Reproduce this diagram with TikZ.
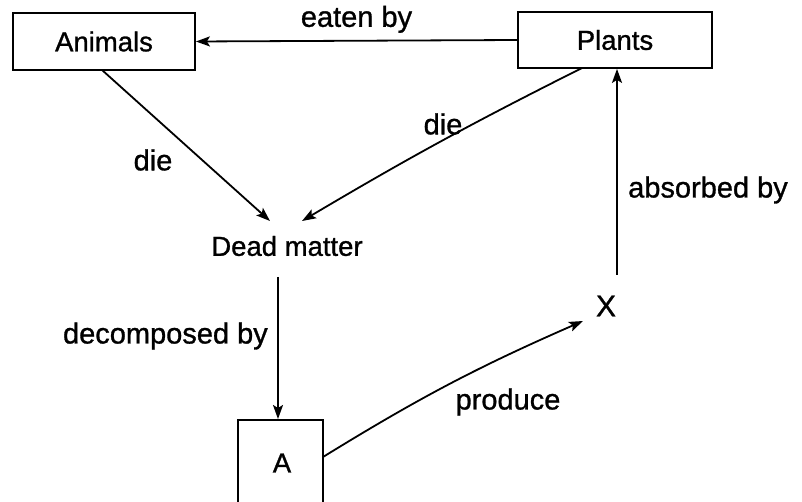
\documentclass[tikz,border=0pt]{standalone}
\usepackage{fontspec}
\setmainfont{Liberation Sans}[FakeBold=1]
\usetikzlibrary{arrows.meta,calc}
\begin{document}
\begin{tikzpicture}[x=1pt,y=-1pt,
  every node/.style={font=\fontsize{29}{32}\selectfont},
  boxtxt/.style={font=\fontsize{27.5}{30}\selectfont},
  boxnode/.style={draw,line width=1.8pt,rectangle,inner sep=0pt,boxtxt},
  lbl/.style={inner sep=0pt},
  conn/.style={line width=1.8pt,-{Stealth[length=14pt,width=10pt,inset=3pt]}}]
\useasboundingbox (0,0) rectangle (802,502);
\node[boxnode,minimum width=182pt,minimum height=57pt] (animals) at (104,41.5) {Animals};
\node[boxnode,minimum width=194pt,minimum height=56pt] (plants) at (615,40) {Plants};
\node[lbl,boxtxt] (dead) at (287,246) {Dead matter};
\node[boxnode,minimum width=85pt,minimum height=92pt,anchor=north] (A) at (280.5,419) {};
\node[lbl,boxtxt] (Atext) at (282,463) {A};
\node[lbl,font=\fontsize{30}{32}\selectfont] (X) at (606,306) {X};
\coordinate (deadL) at (270,221);
\coordinate (deadR) at (302,221);
\coordinate (deadS) at (278,277);
\coordinate (xin) at (583,321);
\coordinate (xout) at (617,275);
% connectors
\draw[conn] (plants.west) -- (animals.east) node[lbl,midway,above=7pt] (eaten) {eaten by};
\draw[conn] (102,70) -- (deadL);
\draw[conn] (582,68) to[bend right=2] (deadR);
\draw[conn] (deadS) -- (deadS |- A.north);
\draw[conn] (323,457) to[bend left=4] (xin);
\draw[conn] (xout) -- (xout |- plants.south);
% labels
\node[lbl] at (153,160) {die};
\node[lbl] at (443,124) {die};
\node[lbl,anchor=west] at (628,190) {absorbed by};
\node[lbl,anchor=east] at (268,336) {decomposed by};
\node[lbl] at (508,402) {produce};
\end{tikzpicture}
\end{document}
